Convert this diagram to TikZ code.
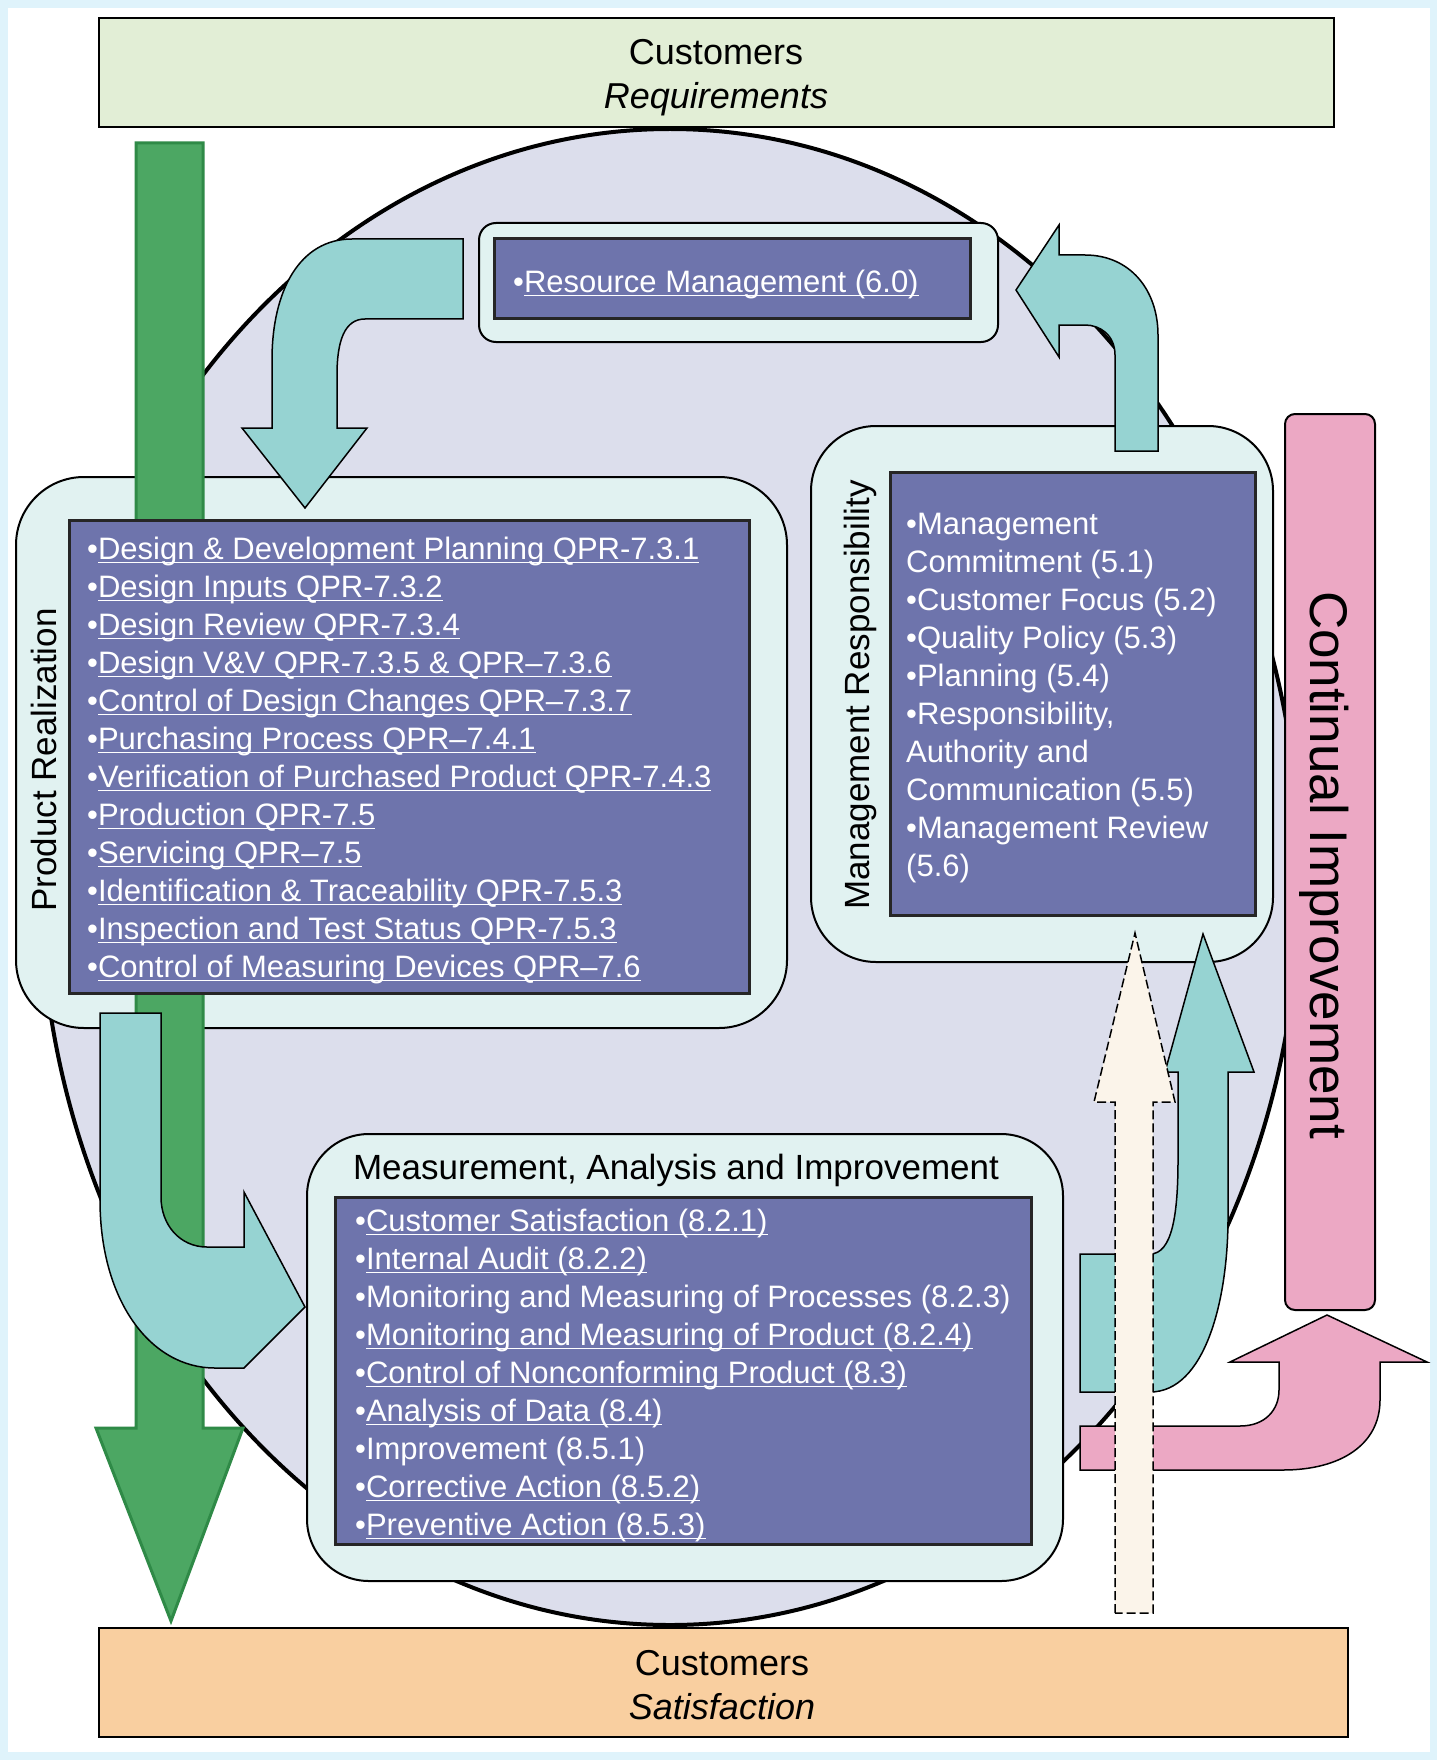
\documentclass[tikz,border=0pt]{standalone}
\usepackage{fontspec}
\setmainfont{Liberation Sans}
\usepackage{tikz}
\tikzset{>=latex}

\definecolor{edgeblue}{HTML}{DFF3FB}
\definecolor{reqgreen}{HTML}{E2EED6}
\definecolor{satpeach}{HTML}{F9CFA0}
\definecolor{circlelav}{HTML}{DCDEEC}
\definecolor{panelcyan}{HTML}{E1F2F1}
\definecolor{listblue}{HTML}{6E74AC}
\definecolor{turq}{HTML}{96D3D2}
\definecolor{flowgreen}{HTML}{4CA763}
\definecolor{greenedge}{HTML}{2F8A47}
\definecolor{cipink}{HTML}{ECA8C4}
\definecolor{cream}{HTML}{FBF4EA}

\tikzset{
    panel/.style={draw, line width=2pt, fill=panelcyan},
    listbox/.style={draw=black!85, line width=3pt, fill=listblue},
    bendarrow/.style={draw, line width=1.5pt, fill=turq},
    listtext/.style={inner sep=0pt, anchor=west, align=left, text=white, font=\fontsize{31}{38}\selectfont},
    sidetext/.style={inner sep=0pt, font=\fontsize{35}{42}\selectfont},
    capbox/.style={inner sep=0pt, align=center, font=\fontsize{36}{44}\selectfont},
}
\newcommand{\lk}[1]{\setbox0=\hbox{#1}\rlap{\vrule height -3.2pt depth 4.4pt width \wd0}\box0}

\begin{document}
\begin{tikzpicture}[x=1pt, y=-1pt]
    \useasboundingbox (0,0) rectangle (1437,1760);
    \fill[edgeblue](0,0) rectangle (1437,1760);
    \fill[white](8,8) rectangle (1430,1752);
    \coordinate (c) at (670,877);
    \draw[line width=2pt, fill=reqgreen](99,18) rectangle (1334,127);
    \draw[line width=2pt, fill=satpeach](99,1628) rectangle (1348,1737);
    \node[capbox] (req) at (716,78) {Customers\\\textit{Requirements}};
    \node[capbox] (sat) at (722,1685) {Customers\\\textit{Satisfaction}};
    \draw[line width=4pt, fill=circlelav](c) ellipse (630pt and 748pt);
    \draw[line width=2pt, fill=cipink, rounded corners=10pt](1285,414) rectangle (1375,1310);
    \node[inner sep=0pt, rotate=-90, font=\fontsize{53}{60}\selectfont] (ci) at (1324,865) {Continual Improvement};
    \draw[panel, rounded corners=68pt](16,477) rectangle (787,1028);
    \draw[panel, rounded corners=65pt](811,426) rectangle (1273,962);
    \draw[panel, rounded corners=17pt](479,223) rectangle (998,342);
    \draw[panel, rounded corners=62pt](307,1134) rectangle (1063,1581);
    \filldraw[fill=flowgreen, draw=greenedge, line width=3pt](136,143)--(203,143)--(203,1428)--(243,1428)--(171,1621)--(96,1428)--(136,1428)--cycle;
    \draw[listbox](69,520) rectangle (749,993);
    \draw[listbox](890,472) rectangle (1255,915);
    \draw[listbox](494,239) rectangle (970,319);
    \draw[listbox](335,1197) rectangle (1031,1544);
    \node[sidetext, rotate=90] (pr) at (44,760) {Product Realization};
    \node[sidetext, rotate=90] (mr) at (860,695) {Management Responsibility};
    \node[sidetext] (mai) at (676,1170) {Measurement, Analysis and Improvement};
    \node[listtext] (rmlist) at (513,284) {•\lk{Resource Management (6.0)}};
    \node[listtext] (prlist) at (87,760) {•\lk{Design \& Development Planning QPR-7.3.1}\\
        •\lk{Design Inputs QPR-7.3.2}\\
        •\lk{Design Review QPR-7.3.4}\\
        •\lk{Design V\&V QPR-7.3.5 \& QPR--7.3.6}\\
        •\lk{Control of Design Changes QPR--7.3.7}\\
        •\lk{Purchasing Process QPR--7.4.1}\\
        •\lk{Verification of Purchased Product QPR-7.4.3}\\
        •\lk{Production QPR-7.5}\\
        •\lk{Servicing QPR--7.5}\\
        •\lk{Identification \& Traceability QPR-7.5.3}\\
        •\lk{Inspection and Test Status QPR-7.5.3}\\
        •\lk{Control of Measuring Devices QPR--7.6}};
    \node[listtext] (mrlist) at (906,698) {•Management\\
        Commitment (5.1)\\
        •Customer Focus (5.2)\\
        •Quality Policy (5.3)\\
        •Planning (5.4)\\
        •Responsibility,\\
        Authority and\\
        Communication (5.5)\\
        •Management Review\\
        (5.6)};
    \node[listtext] (mailist) at (355,1375) {•\lk{Customer Satisfaction (8.2.1)}\\
        •\lk{Internal Audit (8.2.2)}\\
        •Monitoring and Measuring of Processes (8.2.3)\\
        •\lk{Monitoring and Measuring of Product (8.2.4)}\\
        •\lk{Control of Nonconforming Product (8.3)}\\
        •\lk{Analysis of Data (8.4)}\\
        •Improvement (8.5.1)\\
        •\lk{Corrective Action (8.5.2)}\\
        •\lk{Preventive Action (8.5.3)}};
    \draw[bendarrow](463,239)--(352,239) .. controls (300,239) and (272,290) .. (272,360)--(272,428)--(242,428)--(305,508)--(367,428)--(337,428)--(337,375) .. controls (337,340) and (345,319) .. (365,319)--(463,319)--cycle;
    \draw[bendarrow](1158,451)--(1158,335) .. controls (1158,290) and (1130,255) .. (1085,255)--(1059,255)--(1059,225)--(1016,290)--(1059,357)--(1059,325)--(1085,325) .. controls (1100,325) and (1115,335) .. (1115,355)--(1115,451)--cycle;
    \draw[bendarrow](100,1013)--(161,1013)--(161,1197) .. controls (161,1225) and (180,1247) .. (207,1247)--(244,1247)--(244,1192)--(305,1307)--(244,1368)--(215,1368) .. controls (150,1368) and (100,1300) .. (100,1200)--cycle;
    \draw[bendarrow](1080,1254)--(1150,1254) .. controls (1172,1254) and (1178,1215) .. (1178,1160)--(1178,1072)--(1165,1072)--(1203,934)--(1254,1072)--(1228,1072)--(1228,1218) .. controls (1228,1300) and (1205,1392) .. (1150,1392)--(1080,1392)--cycle;
    \draw[line width=1.5pt, fill=cipink](1080,1426)--(1240,1426) .. controls (1265,1426) and (1279,1410) .. (1279,1390)--(1279,1362)--(1230,1362)--(1327,1315)--(1427,1362)--(1380,1362)--(1380,1400) .. controls (1380,1445) and (1340,1470) .. (1283,1470)--(1080,1470)--cycle;
    \draw[line width=1.5pt, dash pattern=on 9pt off 4pt, fill=cream](1115,1613)--(1115,1102)--(1094,1102)--(1135,933)--(1175,1102)--(1153,1102)--(1153,1613)--cycle;
\end{tikzpicture}
\end{document}
